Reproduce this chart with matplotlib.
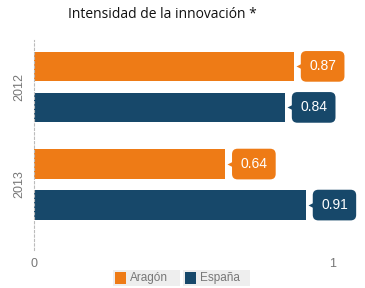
import numpy as np
import matplotlib
matplotlib.use("Agg")
import matplotlib.pyplot as plt
from matplotlib import transforms
from matplotlib.patches import Rectangle

years = ["2012", "2013"]
series = ["Aragón", "España"]
aragon = [0.87, 0.64]
espana = [0.84, 0.91]
colors = ["#EE7B16", "#17486A"]

W, H = 365, 288
fig = plt.figure(figsize=(W / 100, H / 100), dpi=100)
ax = fig.add_axes([34 / W, 1 - 250 / H, (333 - 34) / W, 210 / H])

pos = np.arange(len(years))
off = 0.21
bh = 0.30
for vals, c, d in [(aragon, colors[0], -off), (espana, colors[1], off)]:
    ax.barh(pos + d, vals, height=bh, color=c, zorder=2)
    for y, v in zip(pos + d, vals):
        tr_tri = transforms.offset_copy(ax.transData, fig=fig, x=8, y=0, units="dots")
        ax.plot([v], [y], marker="<", ms=9, color=c, mec="none", transform=tr_tri,
                clip_on=False, zorder=3)
        tr_txt = transforms.offset_copy(ax.transData, fig=fig, x=15, y=0, units="dots")
        ax.text(v, y, f"{v:.2f}", transform=tr_txt, ha="left", va="center",
                fontsize=10, color="white", family="Liberation Sans",
                bbox=dict(boxstyle="round,pad=0.6,rounding_size=0.4", fc=c, ec="none"),
                zorder=4)

ax.set_xlim(0, 1)
ax.set_ylim(1.67, -0.48)
ax.set_xticks([0, 1])
ax.set_xticklabels(["0", "1"], fontsize=9, color="#777777", family="Liberation Sans")
ax.tick_params(axis="x", length=0, pad=6)
ax.set_yticks(pos)
ax.set_yticklabels(years, rotation=90, va="center", fontsize=9, color="#777777",
                   family="Liberation Sans")
ax.tick_params(axis="y", length=0, pad=6)
for s in ["top", "right", "bottom"]:
    ax.spines[s].set_visible(False)
ax.spines["left"].set_linestyle((0, (2, 2)))
ax.spines["left"].set_color("#bbbbbb")

fig.text(162 / W, 1 - 15 / H, "Intensidad de la innovación *", ha="center", va="center",
         fontsize=10, family="Open Sans", color="#111111")

# legend
lx = [113, 183]
for name, c, x0 in zip(series, colors, lx):
    fig.patches.append(Rectangle((x0 / W, 1 - 286 / H), 67 / W, 16 / H,
                                 transform=fig.transFigure, fc="#eeeeee", ec="none"))
    fig.patches.append(Rectangle(((x0 + 2) / W, 1 - 284 / H), 11 / W, 12 / H,
                                 transform=fig.transFigure, fc=c, ec="none"))
    fig.text((x0 + 17) / W, 1 - 278 / H, name, ha="left", va="center", fontsize=8.5,
             color="#777777", family="Liberation Sans")

fig.savefig("out.png", dpi=100)
